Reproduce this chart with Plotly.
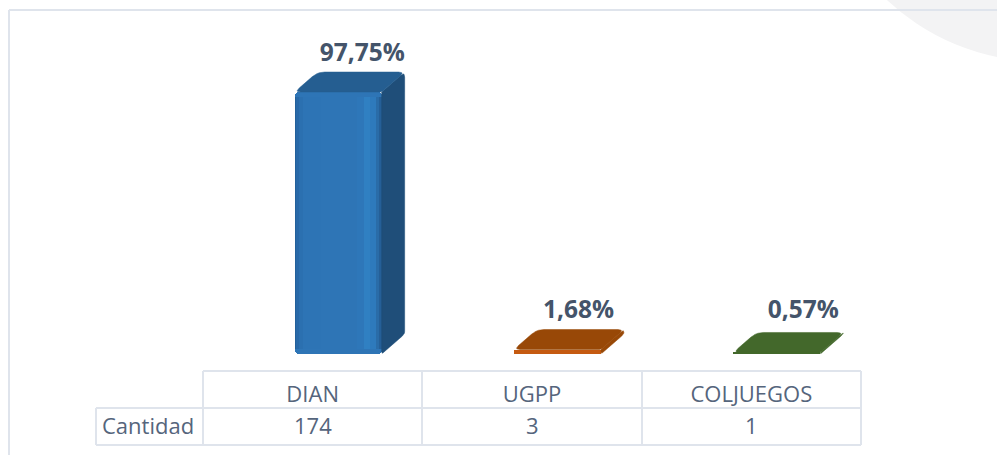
import plotly.graph_objects as go

# ---- data ----
categories = ["DIAN", "UGPP", "COLJUEGOS"]
counts = [174, 3, 1]
percent = [97.75, 1.68, 0.57]
percent_labels = ["97,75%", "1,68%", "0,57%"]
row_label = "Cantidad"

# ---- style ----
W, H = 997, 455
BASE_PX = 354
PX_PER_PCT = 2.68
PX_PER_CAT = 658 / 3
TXT = "#44546A"
TXT_TABLE = "#55657C"
GRID = "#DFE4EC"
FONT = "Open Sans"
top_col = ["#255E91", "#984807", "#43682B"]
side_col = ["#1F4E79", "#984807", "#43682B"]
base_col = ["#2E75B6", "#C55A11", "#43682B"]
strip_edges = [0, .02, .05, .10, .30, .72, .80, .87, .93, .97, 1]
strip_cols = ["#22609A", "#2869A8", "#2B70B0", "#2D74B5", "#2E75B6", "#2E77B9", "#3080C2", "#2E7ABC", "#2A6CA8", "#255F97"]
OFFSET = -18 / PX_PER_CAT
BAR_W = 87 / PX_PER_CAT
DX = 23 / PX_PER_CAT
DY = 20 / PX_PER_PCT
INSET_Y = 5 / PX_PER_PCT
label_dx = [0.226, 0.212, 0.237]
label_dy = [37 / PX_PER_PCT, 38 / PX_PER_PCT, 41 / PX_PER_PCT]


def rounded(pts, radii):
    """Round a polygon's corners; the radii are in screen pixels."""
    sx, sy = PX_PER_CAT, PX_PER_PCT
    P = [(x * sx, y * sy) for x, y in pts]
    n = len(P)
    xs, ys = [], []
    for k in range(n):
        c, a, b = P[k], P[k - 1], P[(k + 1) % n]
        rad = radii[k]
        da = ((a[0] - c[0]) ** 2 + (a[1] - c[1]) ** 2) ** .5
        db = ((b[0] - c[0]) ** 2 + (b[1] - c[1]) ** 2) ** .5
        ra = min(rad, da / 2)
        rb = min(rad, db / 2)
        if ra <= 0 or rb <= 0:
            xs.append(c[0])
            ys.append(c[1])
            continue
        p0 = (c[0] + (a[0] - c[0]) * ra / da, c[1] + (a[1] - c[1]) * ra / da)
        p2 = (c[0] + (b[0] - c[0]) * rb / db, c[1] + (b[1] - c[1]) * rb / db)
        for t in (0, .2, .4, .6, .8, 1):
            xs.append((1 - t) ** 2 * p0[0] + 2 * t * (1 - t) * c[0] + t ** 2 * p2[0])
            ys.append((1 - t) ** 2 * p0[1] + 2 * t * (1 - t) * c[1] + t ** 2 * p2[1])
    return [x / sx for x in xs] + [xs[0] / sx], [y / sy for y in ys] + [ys[0] / sy]


fig = go.Figure()
x_idx = list(range(len(categories)))

# depth faces, computed from the values
for i, v in zip(x_idx, percent):
    l = i + OFFSET
    r = l + BAR_W
    sx, sy = rounded([(r, 0), (r + DX, DY), (r + DX, v + DY), (r, v)], [2, 3, 5, 0])
    fig.add_trace(go.Scatter(x=sx, y=sy, mode="lines", fill="toself", fillcolor=side_col[i],
                             line=dict(color=side_col[i], width=0.5), hoverinfo="skip", showlegend=False))
    tx, ty = rounded([(l, v), (l + DX, v + DY), (r + DX, v + DY), (r, v)], [6, 7, 6, 2])
    fig.add_trace(go.Scatter(x=tx, y=ty, mode="lines", fill="toself", fillcolor=top_col[i],
                             line=dict(color=top_col[i], width=0.5), hoverinfo="skip", showlegend=False))

# front faces: upper half rounded at the top, lower half rounded at the bottom
fig.add_trace(go.Bar(x=x_idx, y=[v / 2 for v in percent], base=[v / 2 for v in percent],
                     width=BAR_W, offset=OFFSET, marker=dict(color=base_col, line_width=0, cornerradius=4),
                     hoverinfo="skip", showlegend=False))
fig.add_trace(go.Bar(x=x_idx, y=[-v / 2 for v in percent], base=[v / 2 for v in percent],
                     width=BAR_W, offset=OFFSET, marker=dict(color=base_col, line_width=0, cornerradius=4),
                     hoverinfo="skip", showlegend=False))

# shading across the tall front face
tall = [(i, v) for i, v in zip(x_idx, percent) if v > 4 * INSET_Y]
for s in range(len(strip_edges) - 1):
    fig.add_trace(go.Bar(
        x=[i for i, _ in tall], y=[v - 2 * INSET_Y for _, v in tall], base=[INSET_Y] * len(tall),
        width=(strip_edges[s + 1] - strip_edges[s]) * BAR_W + 0.002,
        offset=OFFSET + strip_edges[s] * BAR_W,
        marker=dict(color=strip_cols[s], line_width=0, cornerradius=0),
        hoverinfo="skip", showlegend=False))

# percent labels
fig.add_trace(go.Scatter(
    x=[i + d for i, d in zip(x_idx, label_dx)],
    y=[v + d for v, d in zip(percent, label_dy)],
    text=percent_labels, mode="text", textposition="middle center",
    textfont=dict(family=FONT, size=24.5, color=TXT, weight="bold"),
    hoverinfo="skip", showlegend=False))


def px(x):
    return x / W


def py(y):
    return 1 - y / H


shapes = [dict(type="circle", xref="paper", yref="paper", layer="below", line_width=0,
               fillcolor="#F3F3F4", x0=px(816.5), x1=px(1266.5), y0=py(61.5), y1=py(-388.5))]


def line(x0, y0, x1, y1):
    shapes.append(dict(type="line", xref="paper", yref="paper", layer="below",
                       x0=px(x0), y0=py(y0), x1=px(x1), y1=py(y1),
                       line=dict(color=GRID, width=2)))


line(9, 10, 997, 10)
line(9, 10, 9, 455)
for xv in (203, 422, 642, 861):
    line(xv, 371, xv, 445)
line(203, 371, 861, 371)
line(96, 408, 861, 408)
line(96, 445, 861, 445)
line(96, 408, 96, 445)

annotations = [dict(x=i, xref="x", y=py(425), yref="paper", text=str(c), showarrow=False,
                    xanchor="center", yanchor="middle",
                    font=dict(family=FONT, size=22, color=TXT_TABLE))
               for i, c in zip(x_idx, counts)]
annotations.append(dict(x=px(148), xref="paper", y=py(425), yref="paper", text=row_label,
                        showarrow=False, xanchor="center", yanchor="middle",
                        font=dict(family=FONT, size=22, color=TXT_TABLE)))

fig.update_layout(
    width=W, height=H, margin=dict(l=0, r=0, t=0, b=0),
    paper_bgcolor="white", plot_bgcolor="rgba(0,0,0,0)",
    barmode="overlay", bargap=0,
    shapes=shapes, annotations=annotations, showlegend=False,
    xaxis=dict(domain=[px(203), px(861)], range=[-0.5, 2.5], tickmode="array",
               tickvals=x_idx, ticktext=categories, showgrid=False, zeroline=False,
               showline=False, ticks="", ticklabelstandoff=25,
               tickfont=dict(family=FONT, size=22, color=TXT_TABLE)),
    yaxis=dict(domain=[py(BASE_PX), 1], range=[0, BASE_PX / PX_PER_PCT], visible=False),
)
fig.write_html("out.html", config={"displayModeBar": False},
               post_script="document.body.style.margin='0';document.body.style.overflow='hidden';")
